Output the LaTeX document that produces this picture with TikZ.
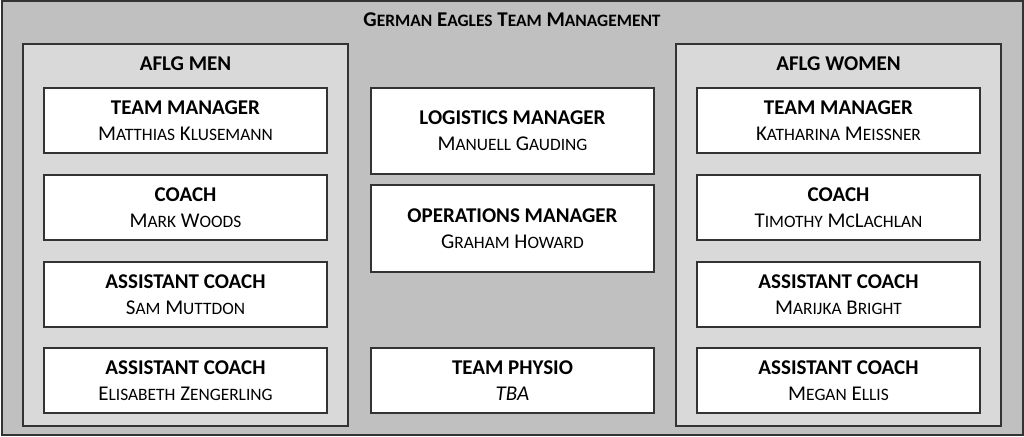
\documentclass[tikz,border=0pt]{standalone}
\usepackage{fontspec}
\setmainfont{Carlito}
\definecolor{edge}{HTML}{333333}
\definecolor{outerfill}{HTML}{C0C0C0}
\definecolor{panelfill}{HTML}{D9D9D9}
\newcommand\smc[1]{{\fontsize{17.4}{26}\selectfont #1}}
\tikzset{
  frame/.style={draw=edge, line width=2pt, fill=outerfill, minimum width=1021pt, minimum height=433pt, inner sep=0pt},
  panel/.style={draw=edge, line width=1.4pt, fill=panelfill, minimum width=325pt, minimum height=382pt, inner sep=0pt},
  card/.style={draw=edge, line width=1.4pt, fill=white, minimum width=283pt, minimum height=65pt, inner sep=0pt, align=center, font=\fontsize{21}{26}\selectfont},
  heading/.style={font=\fontsize{21}{26}\selectfont\bfseries, inner sep=0pt}
}
\begin{document}
\begin{tikzpicture}[x=1pt,y=-1pt]
\useasboundingbox (0,0) rectangle (1024,436);
\node[frame] (outer) at (512,218) {};
\node[heading] (title) at (512,20) {G\smc{ERMAN} E\smc{AGLES} T\smc{EAM} M\smc{ANAGEMENT}};
\node[panel] (men) at (185.5,235) {};
\node[panel] (women) at (838.5,235) {};
\node[heading] (menT) at (185.5,63.5) {AFLG MEN};
\node[heading] (womenT) at (838.5,63.5) {AFLG WOMEN};
% men
\node[card] (m1) at (185.5,120.5) {\textbf{TEAM MANAGER}\\M\smc{ATTHIAS} K\smc{LUSEMANN}};
\node[card] (m2) at (185.5,207.5) {\textbf{COACH}\\M\smc{ARK} W\smc{OODS}};
\node[card] (m3) at (185.5,294.5) {\textbf{ASSISTANT COACH}\\S\smc{AM} M\smc{UTTDON}};
\node[card] (m4) at (185.5,380.5) {\textbf{ASSISTANT COACH}\\E\smc{LISABETH} Z\smc{ENGERLING}};
% middle
\node[card, minimum height=86pt] (c1) at (512.5,131) {\textbf{LOGISTICS MANAGER}\\M\smc{ANUELL} G\smc{AUDING}};
\node[card, minimum height=87pt] (c2) at (512.5,228.5) {\textbf{OPERATIONS MANAGER}\\G\smc{RAHAM} H\smc{OWARD}};
\node[card] (c3) at (512.5,380.5) {\textbf{TEAM PHYSIO}\\\textit{TBA}};
% women
\node[card] (w1) at (838.5,120.5) {\textbf{TEAM MANAGER}\\K\smc{ATHARINA} M\smc{EISSNER}};
\node[card] (w2) at (838.5,207.5) {\textbf{COACH}\\T\smc{IMOTHY} M\smc{C}L\smc{ACHLAN}};
\node[card] (w3) at (838.5,294.5) {\textbf{ASSISTANT COACH}\\M\smc{ARIJKA} B\smc{RIGHT}};
\node[card] (w4) at (838.5,380.5) {\textbf{ASSISTANT COACH}\\M\smc{EGAN} E\smc{LLIS}};
\end{tikzpicture}
\end{document}
